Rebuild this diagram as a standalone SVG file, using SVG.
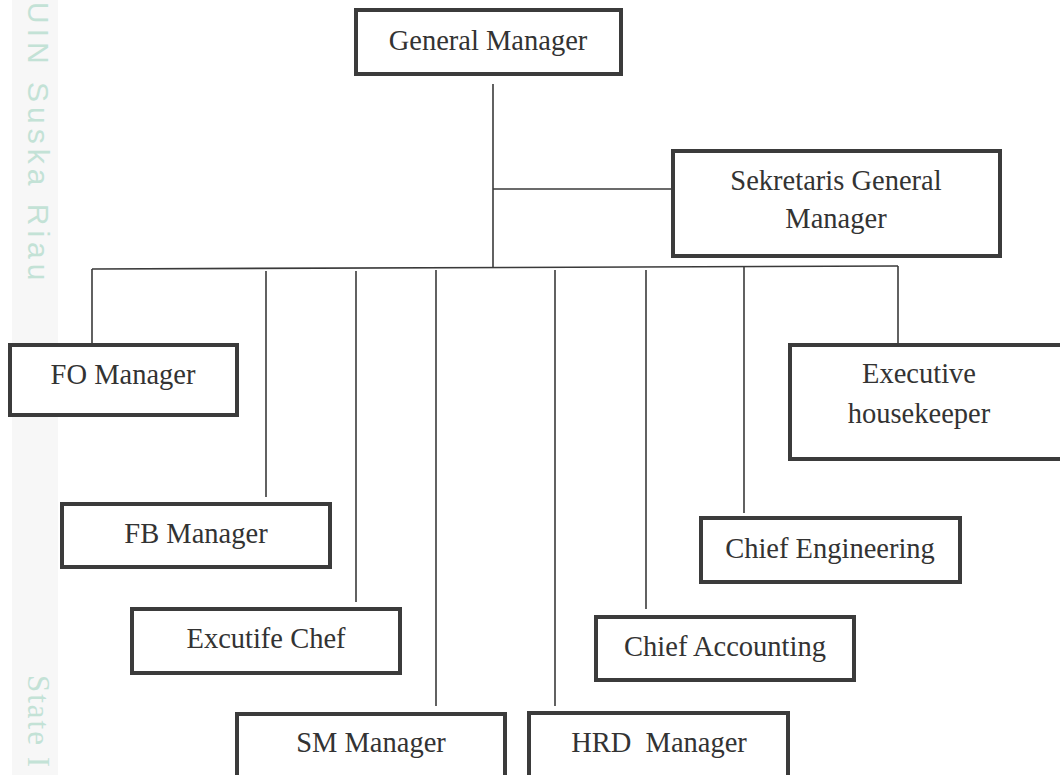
<svg xmlns="http://www.w3.org/2000/svg" width="1060" height="775" viewBox="0 0 1060 775">
  <style>
    .box { fill: #ffffff; stroke: #3b3b3b; stroke-width: 4; }
    .lbl { font-family: "Liberation Serif", "Times New Roman", serif; font-size: 28.5px; fill: #333333; text-anchor: middle; }
    .wire { stroke: #3a3a3a; stroke-width: 1.6; fill: none; }
    .mark { fill: #c3e2d6; }
  </style>

  <rect x="0" y="0" width="1060" height="775" fill="#ffffff"/>

  <!-- side margin strip -->
  <g id="margin">
    <rect x="12" y="0" width="46" height="775" fill="#f7f7f7"/>
    <text class="mark" transform="translate(28,2) rotate(90)" font-family="'Liberation Sans', Arial, sans-serif" font-size="30" letter-spacing="5">UIN Suska Riau</text>
    <text class="mark" transform="translate(28,675) rotate(90)" font-family="'Liberation Serif', 'Times New Roman', serif" font-size="31" letter-spacing="2">State I</text>
  </g>

  <!-- connectors -->
  <g id="connectors">
    <line class="wire" x1="493" y1="84" x2="493" y2="268"/>
    <line class="wire" x1="493" y1="189" x2="671" y2="189"/>
    <line class="wire" x1="92" y1="269" x2="898" y2="266"/>
    <line class="wire" x1="92" y1="269" x2="92" y2="343"/>
    <line class="wire" x1="266" y1="271" x2="266" y2="497"/>
    <line class="wire" x1="356" y1="271" x2="356" y2="602"/>
    <line class="wire" x1="436" y1="270" x2="436" y2="706"/>
    <line class="wire" x1="555" y1="270" x2="555" y2="706"/>
    <line class="wire" x1="646" y1="270" x2="646" y2="609"/>
    <line class="wire" x1="744" y1="267" x2="744" y2="513"/>
    <line class="wire" x1="898" y1="266" x2="898" y2="343"/>
  </g>

  <g id="general-manager">
    <rect class="box" x="356" y="10" width="265" height="64"/>
    <text class="lbl" x="488" y="50">General Manager</text>
  </g>

  <g id="sekretaris">
    <rect class="box" x="673" y="151" width="327" height="105"/>
    <text class="lbl" x="836" y="190">Sekretaris General</text>
    <text class="lbl" x="836" y="228">Manager</text>
  </g>

  <g id="fo-manager">
    <rect class="box" x="10" y="345" width="227" height="70"/>
    <text class="lbl" x="123" y="384">FO Manager</text>
  </g>

  <g id="fb-manager">
    <rect class="box" x="62" y="504" width="268" height="63"/>
    <text class="lbl" x="196" y="543">FB Manager</text>
  </g>

  <g id="excutife-chef">
    <rect class="box" x="132" y="609" width="268" height="64"/>
    <text class="lbl" x="266" y="648">Excutife Chef</text>
  </g>

  <g id="sm-manager">
    <rect class="box" x="237" y="714" width="268" height="100"/>
    <text class="lbl" x="371" y="752">SM Manager</text>
  </g>

  <g id="hrd-manager">
    <rect class="box" x="529" y="713" width="259" height="100"/>
    <text class="lbl" x="659" y="752" xml:space="preserve">HRD  Manager</text>
  </g>

  <g id="chief-accounting">
    <rect class="box" x="596" y="617" width="258" height="63"/>
    <text class="lbl" x="725" y="656">Chief Accounting</text>
  </g>

  <g id="chief-engineering">
    <rect class="box" x="701" y="518" width="259" height="64"/>
    <text class="lbl" x="830" y="558">Chief Engineering</text>
  </g>

  <g id="executive-housekeeper">
    <rect class="box" x="790" y="345" width="300" height="114"/>
    <text class="lbl" x="919" y="383">Executive</text>
    <text class="lbl" x="919" y="423">housekeeper</text>
  </g>
</svg>
